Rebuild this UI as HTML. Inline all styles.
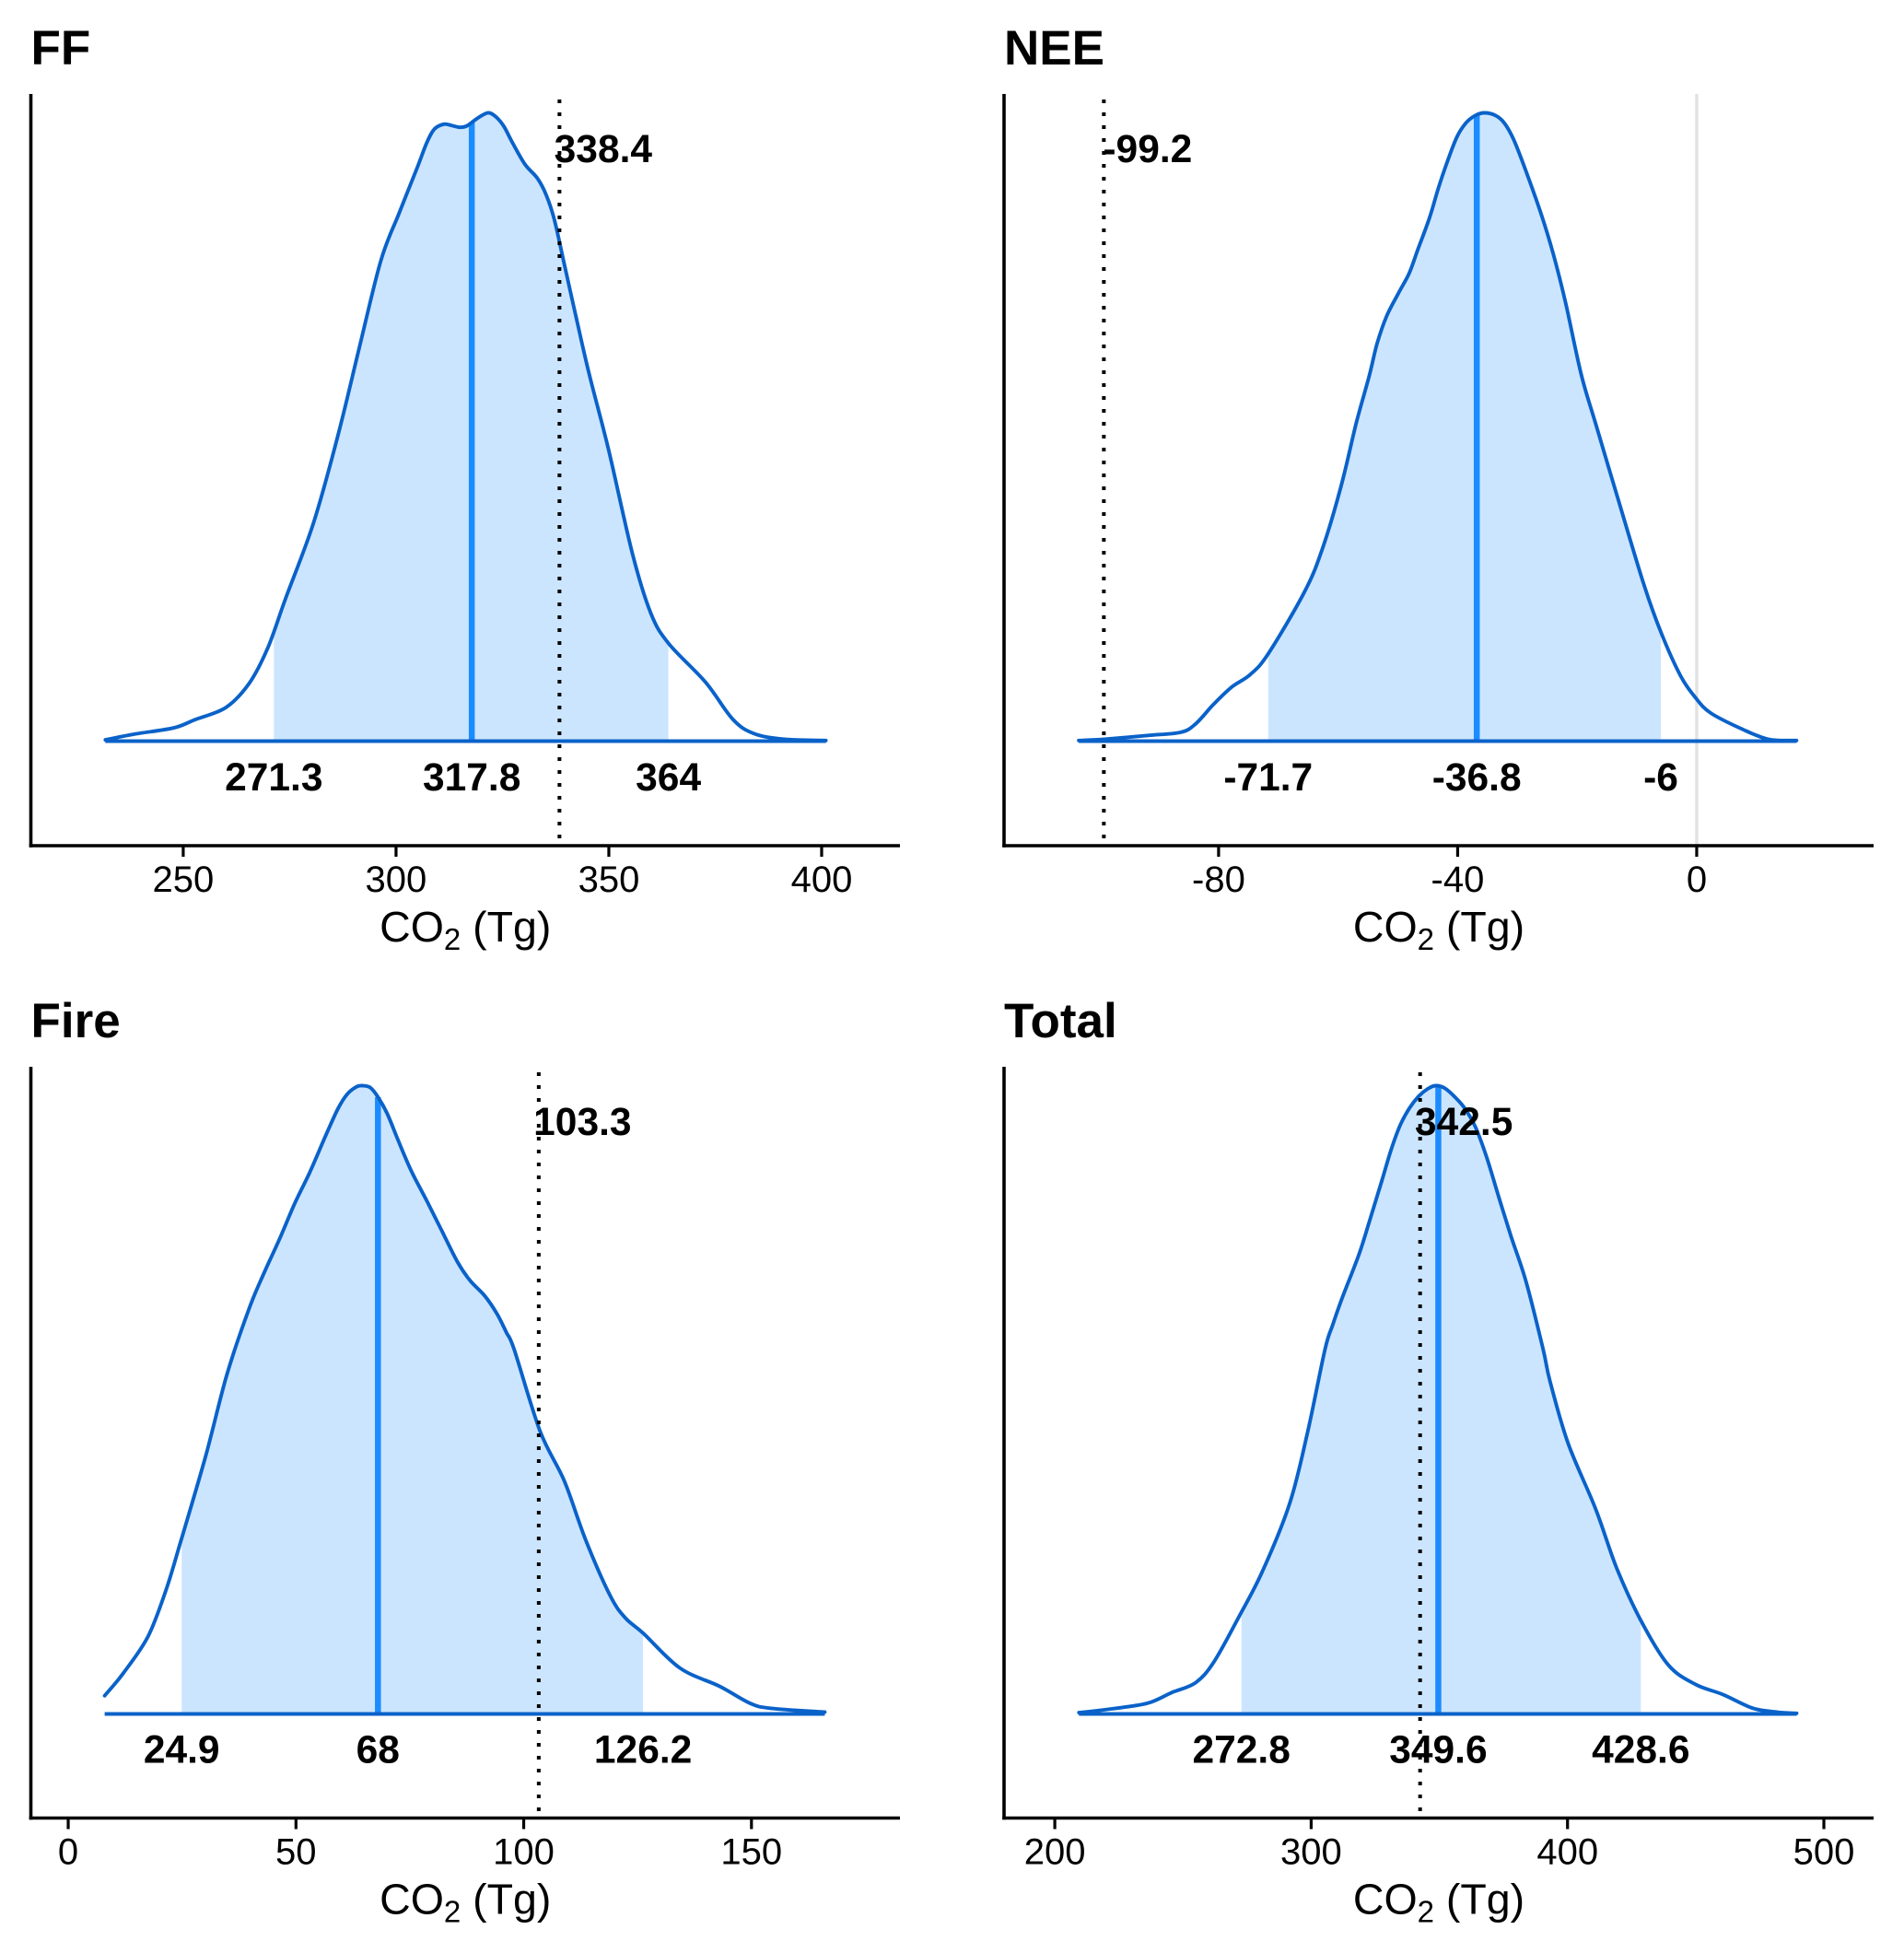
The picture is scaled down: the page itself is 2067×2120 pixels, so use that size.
<!DOCTYPE html>
<html lang="en">
<head>
<meta charset="utf-8">
<title>CO2 posterior densities</title>
<style>
  html, body { margin: 0; padding: 0; background: #fff; }
  svg { display: block; font-family: "Liberation Sans", Arial, sans-serif; }
</style>
</head>
<body>
<svg id="chart" xmlns="http://www.w3.org/2000/svg" width="2067" height="2120" viewBox="0 0 2067 2120"></svg>
<script>
// ---------- FF ----------
const ffCO2 = [231.7,238.4,247.7,252.7,260.1,265.6,269.9,274.1,280.6,286.3,291.3,296.4,300.7,305,307.2,309,311.2,313,315,316.6,318.4,320.2,321.8,323.4,325.3,327.4,330.3,333.2,335.3,337.2,339.7,342.6,345.5,349.9,355.6,359.9,364.1,372.7,379.1,384.1,391.3,401];
const ffDensity = [.002,.011,.021,.034,.054,.093,.149,.228,.347,.485,.624,.764,.840,.913,.952,.974,.982,.980,.977,.979,.988,.996,1,.994,.979,.952,.918,.896,.869,.830,.754,.666,.581,.465,.297,.203,.155,.094,.035,.012,.003,.001];
const ffInterval = [271.3,317.8,364];
const ffPrior = [338.4];
const ffTicks = [250,300,350,400];
const ffTickLabels = ['250','300','350','400'];
const ffDomain = [214.2,418.4];
// ---------- NEE ----------
const neeCO2 = [-103.4,-99.1,-92,-86.4,-83.9,-80.8,-77.8,-74.7,-71.7,-65.6,-62.6,-59.5,-57,-54.8,-53.5,-51.9,-49.9,-48.1,-46.6,-44.7,-43.2,-41.7,-40.1,-38.6,-37,-35.5,-33.7,-32.2,-30.6,-28.6,-26,-23.9,-21.9,-19.3,-16.9,-12.9,-8.8,-5.8,-2.7,-.2,2.3,7.4,12,16.7];
const neeDensity = [.001,.003,.009,.014,.027,.059,.086,.106,.139,.238,.307,.406,.505,.581,.632,.676,.713,.745,.784,.833,.881,.923,.962,.984,.996,1,.996,.984,.957,.908,.838,.772,.696,.583,.505,.377,.248,.169,.104,.069,.045,.020,.003,.001];
const neeInterval = [-71.7,-36.8,-6];
const neePrior = [-99.2];
const neeTicks = [-80,-40,0];
const neeTickLabels = ['-80','-40','0'];
const neeDomain = [-115.9,29.6];
// ---------- Fire ----------
const fireCO2 = [8,12.1,17.5,21.5,24.8,30.2,34.8,39.6,43,46.4,49.7,53.1,56.5,59.2,61.2,63.2,64.7,66.3,67.9,70,72.6,75.4,78.7,82.1,85.5,88.2,91.5,94.2,96.2,97.9,103.6,108.9,113.6,119,122.3,126.3,134.3,143,149.7,154.3,166.1];
const fireDensity = [.029,.065,.123,.198,.277,.411,.539,.643,.702,.756,.812,.863,.920,.963,.986,.998,1,.997,.983,.956,.910,.863,.817,.768,.719,.690,.665,.636,.607,.580,.450,.371,.277,.188,.153,.128,.073,.044,.017,.009,.003];
const fireInterval = [24.9,68,126.2];
const firePrior = [103.3];
const fireTicks = [0,50,100,150];
const fireTickLabels = ['0','50','100','150'];
const fireDomain = [-8.2,182.6];
// ---------- Total ----------
const totalCO2 = [209.4,222,236.1,245.6,255,262.1,271.6,281,291.7,298.7,305.4,308.4,312,318.6,322.8,327.6,331.2,334.7,338.3,341.9,345.5,348.5,352.1,356.3,359.9,364.1,368.3,373.1,377.9,383.9,390.5,393.2,400.3,411,419.2,428.7,439.3,449.9,460.6,472.4,481.8,489.4];
const totalDensity = [.002,.008,.017,.034,.050,.083,.153,.227,.336,.450,.580,.619,.661,.731,.785,.849,.898,.937,.964,.983,.995,1,.996,.981,.964,.934,.888,.824,.761,.687,.580,.529,.430,.326,.232,.148,.078,.047,.031,.009,.003,.001];
const totalInterval = [272.8,349.6,428.6];
const totalPrior = [342.5];
const totalTicks = [200,300,400,500];
const totalTickLabels = ['200','300','400','500'];
const totalDomain = [180.2,519.4];

const NS = 'http://www.w3.org/2000/svg';
const root = document.getElementById('chart');

function make(parent, tag, attrs, text) {
  const el = document.createElementNS(NS, tag);
  for (const k in attrs) el.setAttribute(k, attrs[k]);
  if (text !== undefined) el.textContent = text;
  parent.appendChild(el);
  return el;
}

function interpolate(xs, ys, x) {
  if (x <= xs[0]) return ys[0];
  for (let i = 1; i < xs.length; i++) {
    if (x <= xs[i]) {
      const t = (x - xs[i - 1]) / (xs[i] - xs[i - 1]);
      return ys[i - 1] + t * (ys[i] - ys[i - 1]);
    }
  }
  return ys[ys.length - 1];
}

function smoothSegments(pts) {
  let d = '';
  for (let i = 0; i < pts.length - 1; i++) {
    const p0 = pts[Math.max(i - 1, 0)], p1 = pts[i], p2 = pts[i + 1], p3 = pts[Math.min(i + 2, pts.length - 1)];
    const c1x = p1[0] + (p2[0] - p0[0]) / 6, c1y = p1[1] + (p2[1] - p0[1]) / 6;
    const c2x = p2[0] - (p3[0] - p1[0]) / 6, c2y = p2[1] - (p3[1] - p1[1]) / 6;
    d += ' C' + c1x.toFixed(1) + ' ' + c1y.toFixed(1) + ' ' + c2x.toFixed(1) + ' ' + c2y.toFixed(1) + ' ' + p2[0].toFixed(1) + ' ' + p2[1].toFixed(1);
  }
  return d;
}

function drawPanel(cfg) {
  const g = make(root, 'g', {});
  
  

  const x = v => cfg.left + (v - cfg.domain[0]) / (cfg.domain[1] - cfg.domain[0]) * (cfg.right - cfg.left);
  const y = v => cfg.baseline - v * cfg.height;
  const xs = cfg.co2, ys = cfg.density;
  const low = cfg.interval[0], med = cfg.interval[1], high = cfg.interval[2];

  // Optional zero reference line
  if (cfg.zeroLine) {
    const zero = make(g, 'line', {x1: x(0), x2: x(0), y1: cfg.top, y2: cfg.axisY, stroke: '#e2e2e2', 'stroke-width': 3.4});
    
    
  }

  // Shaded credible interval
  const inside = [[low, interpolate(xs, ys, low)]];
  xs.forEach((v, i) => { if (v > low && v < high) inside.push([v, ys[i]]); });
  inside.push([high, interpolate(xs, ys, high)]);
  const insidePts = inside.map(p => [x(p[0]), y(p[1])]);
  const areaPath = 'M' + x(low).toFixed(1) + ' ' + y(0).toFixed(1) + ' L' + insidePts[0][0].toFixed(1) + ' ' + insidePts[0][1].toFixed(1) + smoothSegments(insidePts) + ' L' + x(high).toFixed(1) + ' ' + y(0).toFixed(1) + ' Z';
  const area = make(g, 'path', {d: areaPath, fill: '#cce5ff', stroke: 'none'});
  
  

  // Median line
  const medianLine = make(g, 'line', {x1: x(med), x2: x(med), y1: y(0), y2: y(interpolate(xs, ys, med)), stroke: '#1a8cff', 'stroke-width': 6.5});
  
  

  // Density outline and baseline
  const pts = xs.map((v, i) => [x(v), y(ys[i])]);
  const curve = make(g, 'path', {d: 'M' + pts[0][0].toFixed(1) + ' ' + pts[0][1].toFixed(1) + smoothSegments(pts), fill: 'none', stroke: '#0a62c9', 'stroke-width': 3.9, 'stroke-linecap': 'round'});
  
  
  const base = make(g, 'line', {x1: x(xs[0]), x2: x(xs[xs.length - 1]), y1: y(0), y2: y(0), stroke: '#0a62c9', 'stroke-width': 3.9});
  
  

  // Prior dotted line
  const priorLine = make(g, 'line', {x1: x(cfg.prior[0]), x2: x(cfg.prior[0]), y1: cfg.top + 6, y2: cfg.axisY, stroke: '#000', 'stroke-width': 4, 'stroke-dasharray': '4 10'});
  
  

  // Axes
  const yAxis = make(g, 'line', {x1: cfg.left, x2: cfg.left, y1: cfg.top, y2: cfg.axisY + 1.8, stroke: '#000', 'stroke-width': 3.6});
  
  
  const xAxis = make(g, 'line', {x1: cfg.left - 1.8, x2: cfg.right, y1: cfg.axisY, y2: cfg.axisY, stroke: '#000', 'stroke-width': 3.6});
  
  

  cfg.ticks.forEach((t, i) => {
    const tick = make(g, 'line', {x1: x(t), x2: x(t), y1: cfg.axisY, y2: cfg.axisY + 12, stroke: '#000', 'stroke-width': 3.2});
    
    
    const label = make(g, 'text', {x: x(t), y: cfg.axisY + 50, 'text-anchor': 'middle', 'font-size': 40, fill: '#000'}, cfg.tickLabels[i]);
    
    
  });

  // Axis title
  const axisTitle = make(g, 'text', {x: (cfg.left + cfg.right) / 2, y: cfg.axisY + 104, 'text-anchor': 'middle', 'font-size': 46.5, fill: '#000'});
  
  
  make(axisTitle, 'tspan', {}, 'CO');
  make(axisTitle, 'tspan', {dy: 9, 'font-size': 33}, '2');
  make(axisTitle, 'tspan', {dy: -9}, ' (Tg)');

  // Interval value labels
  cfg.interval.forEach(v => {
    const lab = make(g, 'text', {x: x(v), y: cfg.axisY - 60, 'text-anchor': 'middle', 'font-size': 42.5, 'font-weight': 'bold', fill: '#000'}, String(v));
    
    
  });

  // Prior value label
  const priorLab = make(g, 'text', {x: x(cfg.prior[0]) + 47.5, y: cfg.top + 74, 'text-anchor': 'middle', 'font-size': 42.5, 'font-weight': 'bold', fill: '#000'}, String(cfg.prior[0]));
  
  

  // Panel title
  const title = make(g, 'text', {x: cfg.left, y: cfg.top - 32, 'font-size': 53, 'font-weight': 'bold', fill: '#000'}, cfg.title);
  
  
}

drawPanel({name: 'ff', title: 'FF', co2: ffCO2, density: ffDensity, interval: ffInterval, prior: ffPrior, ticks: ffTicks, tickLabels: ffTickLabels, domain: ffDomain, left: 33.5, right: 977, top: 102, axisY: 918, baseline: 804.5, height: 682});
drawPanel({name: 'nee', title: 'NEE', co2: neeCO2, density: neeDensity, interval: neeInterval, prior: neePrior, ticks: neeTicks, tickLabels: neeTickLabels, domain: neeDomain, left: 1090, right: 2034, top: 102, axisY: 918, baseline: 804.5, height: 682, zeroLine: true});
drawPanel({name: 'fire', title: 'Fire', co2: fireCO2, density: fireDensity, interval: fireInterval, prior: firePrior, ticks: fireTicks, tickLabels: fireTickLabels, domain: fireDomain, left: 33.5, right: 977, top: 1158, axisY: 1973.5, baseline: 1860.5, height: 682});
drawPanel({name: 'total', title: 'Total', co2: totalCO2, density: totalDensity, interval: totalInterval, prior: totalPrior, ticks: totalTicks, tickLabels: totalTickLabels, domain: totalDomain, left: 1090, right: 2034, top: 1158, axisY: 1973.5, baseline: 1860.5, height: 682});
</script>
</body>
</html>
